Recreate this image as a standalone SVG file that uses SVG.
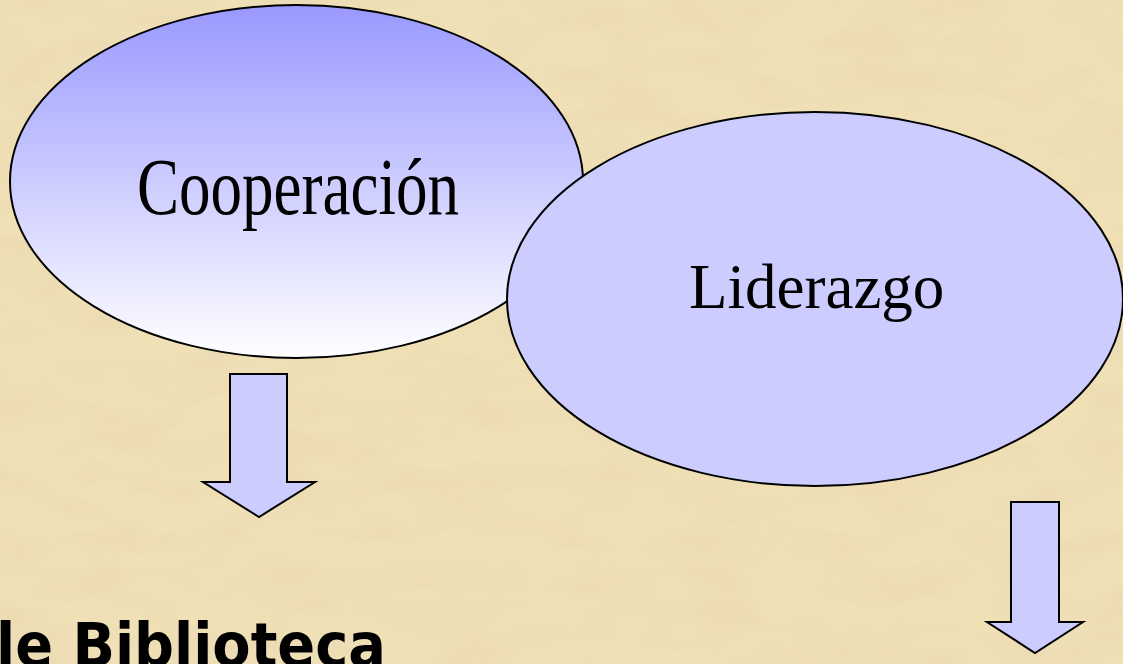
<svg xmlns="http://www.w3.org/2000/svg" width="1123" height="664" viewBox="0 0 1123 664">
  <style>
    .shape { stroke: #000000; stroke-width: 2; }
    .lbl { font-family: "Liberation Serif", "Times New Roman", serif; fill: #000000; }
    .arrow { fill: #CCCCFF; stroke: #000000; stroke-width: 2; stroke-linejoin: miter; }
    .title { font-family: "DejaVu Sans", Tahoma, Verdana, sans-serif; font-weight: bold; fill: #000000; }
  </style>
  <defs>
    <linearGradient id="gradCoop" x1="0" y1="0" x2="0" y2="1">
      <stop offset="0" stop-color="#9999FF"/>
      <stop offset="0.5" stop-color="#CCCCFF"/>
      <stop offset="1" stop-color="#FFFFFF"/>
    </linearGradient>
    <filter id="paper" x="0" y="0" width="100%" height="100%" filterUnits="userSpaceOnUse">
      <feTurbulence type="fractalNoise" baseFrequency="0.012 0.03" numOctaves="4" seed="7" result="n"/>
      <feColorMatrix in="n" type="matrix" values="0 0 0 0 0.78  0 0 0 0 0.64  0 0 0 0 0.42  1.4 0 0 0 -0.55"/>
    </filter>
  </defs>

  <g id="background">
    <rect x="0" y="0" width="1123" height="664" fill="#F0E0B6"/>
    <rect x="0" y="0" width="1123" height="664" fill="#000" filter="url(#paper)" opacity="0.6"/>
  </g>

  <g id="node-cooperacion">
    <ellipse class="shape" cx="296.5" cy="181.5" rx="286.5" ry="176.5" fill="url(#gradCoop)"/>
    <text class="lbl" x="137" y="214" font-size="80" textLength="322" lengthAdjust="spacingAndGlyphs">Cooperación</text>
  </g>

  <g id="node-liderazgo">
    <ellipse class="shape" cx="815" cy="299" rx="308" ry="187" fill="#CCCCFF"/>
    <text class="lbl" x="689" y="308" font-size="63">Liderazgo</text>
  </g>

  <g id="connectors">
    <polygon class="arrow" points="230,374 287,374 287,482 315,482 259,517 203,482 230,482"/>
    <polygon class="arrow" points="1011,502 1059,502 1059,622 1083,622 1035,653 987,622 1011,622"/>
  </g>

  <g id="node-biblioteca">
    <text class="title" x="-4" y="666" font-size="60" textLength="390" lengthAdjust="spacingAndGlyphs">le Biblioteca</text>
  </g>
</svg>
